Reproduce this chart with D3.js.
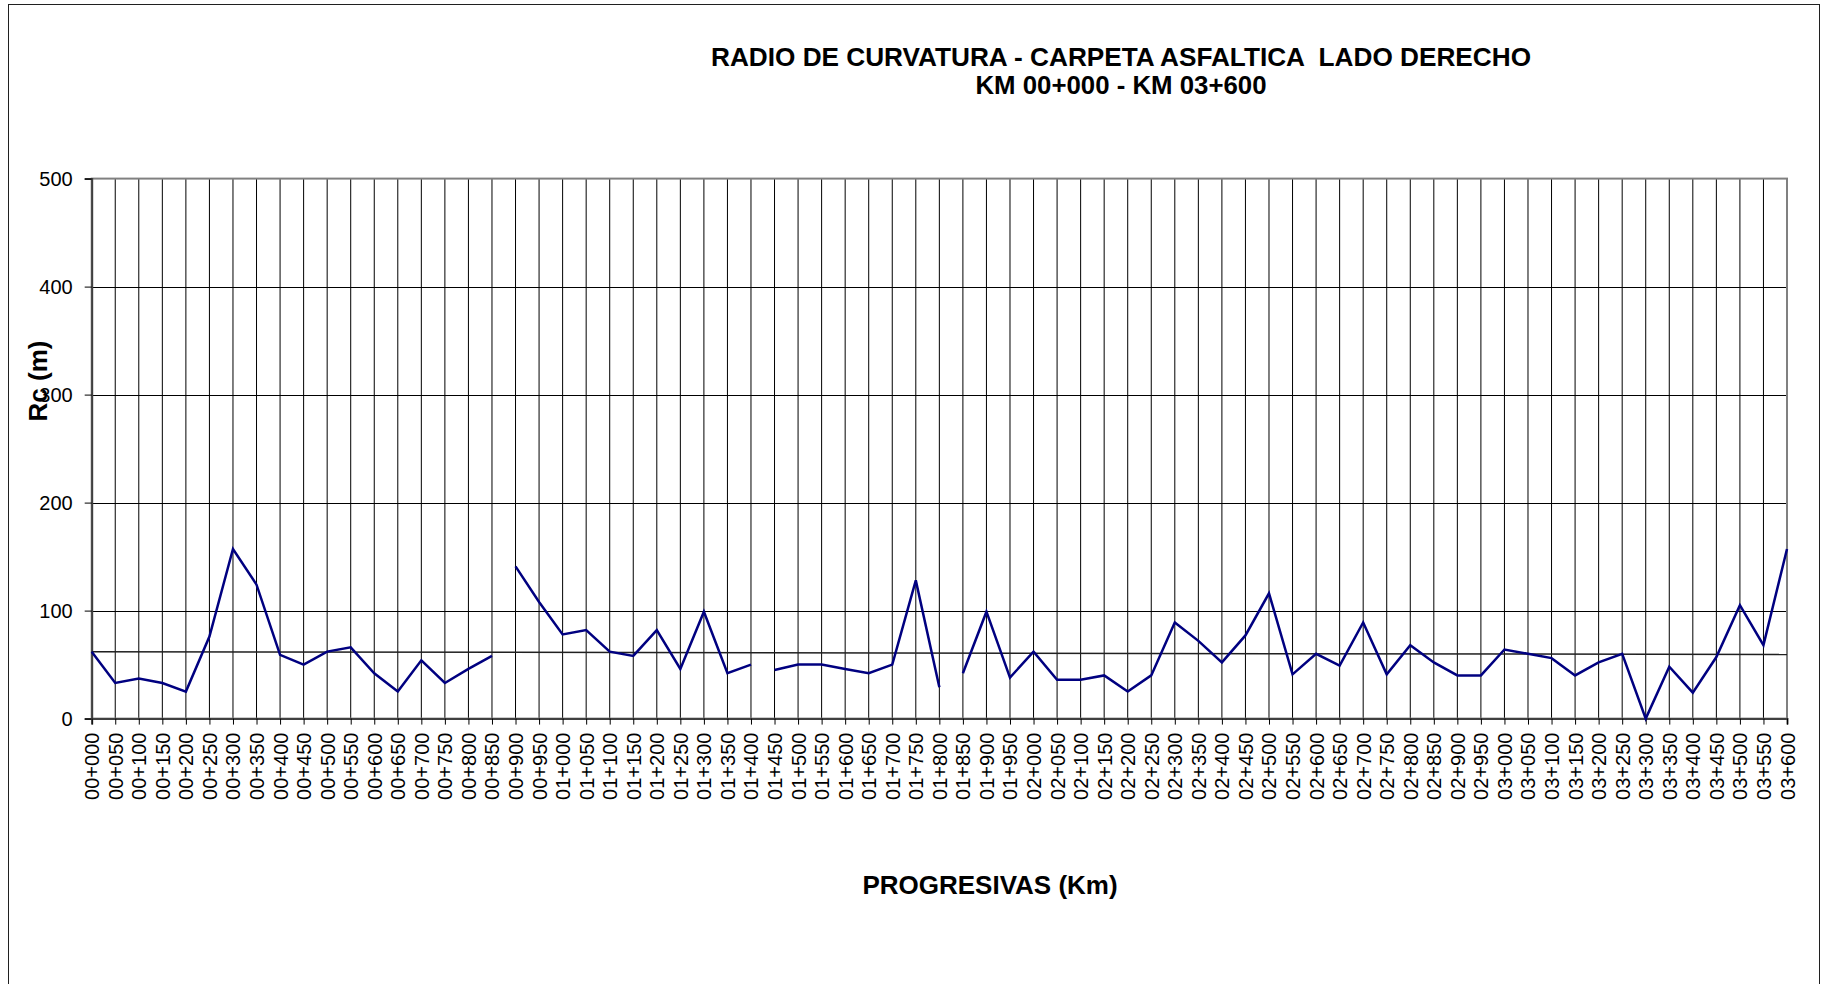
<!DOCTYPE html>
<html>
<head>
<meta charset="utf-8">
<script src="https://cdn.jsdelivr.net/npm/d3@7"></script>
<style>
  html, body { margin: 0; padding: 0; background: #fff; }
  svg { display: block; font-family: "Liberation Sans", Arial, sans-serif; }
</style>
</head>
<body>
<svg id="chart" width="1832" height="984"></svg>
<script>
const categories = [
  "00+000","00+050","00+100","00+150","00+200","00+250","00+300","00+350","00+400","00+450",
  "00+500","00+550","00+600","00+650","00+700","00+750","00+800","00+850","00+900","00+950",
  "01+000","01+050","01+100","01+150","01+200","01+250","01+300","01+350","01+400","01+450",
  "01+500","01+550","01+600","01+650","01+700","01+750","01+800","01+850","01+900","01+950",
  "02+000","02+050","02+100","02+150","02+200","02+250","02+300","02+350","02+400","02+450",
  "02+500","02+550","02+600","02+650","02+700","02+750","02+800","02+850","02+900","02+950",
  "03+000","03+050","03+100","03+150","03+200","03+250","03+300","03+350","03+400","03+450",
  "03+500","03+550","03+600"
];
const rcValues = [
  62, 33, 37, 33, 25, 76, 157, 124, 59, 50,
  62, 66, 42, 25, 54, 33, 46, 58, 141, 108,
  78, 82, 62, 58, 82, 46, 99, 42, 50, 45,
  50, 50, 46, 42, 50, 128, 29, 42, 99, 38,
  62, 36, 36, 40, 25, 40, 89, 72, 52, 77,
  116, 41, 60, 49, 89, 41, 68, 52, 40, 40,
  64, 60, 56, 40, 52, 60, 0, 48, 24, 57,
  105, 68, 157
];
// indices where the plotted line starts a new (unconnected) segment
const segmentStarts = [0, 18, 29, 37];
// linear trendline values at first and last progresiva
const trendValues = [62.0, 59.3];
const yTicks = [0, 100, 200, 300, 400, 500];
const titleLines = ["RADIO DE CURVATURA - CARPETA ASFALTICA  LADO DERECHO", "KM 00+000 - KM 03+600"];
const xTitle = "PROGRESIVAS (Km)";
const yTitle = "Rc (m)";

const svg = d3.select("#chart");
const pLeft = 91.7, pRight = 1787, pTop = 178.6, pBottom = 718.6;

const x = d3.scalePoint().domain(categories).range([pLeft, pRight]);
const y = d3.scaleLinear().domain([0, 500]).range([pBottom, pTop]);

// outer chart border
svg.append("rect").attr("x", 8.5).attr("y", 4.5).attr("width", 1811).attr("height", 1000)
  .attr("fill", "none").attr("stroke", "#202020").attr("stroke-width", 1);

// vertical gridlines
svg.append("g").selectAll("line").data(categories.slice(1, -1)).join("line")
  .attr("x1", d => x(d)).attr("x2", d => x(d))
  .attr("y1", pTop).attr("y2", pBottom)
  .attr("stroke", "#000").attr("stroke-width", 1);

// horizontal gridlines
svg.append("g").selectAll("line").data(yTicks.slice(1, -1)).join("line")
  .attr("x1", pLeft).attr("x2", pRight)
  .attr("y1", d => Math.round(y(d)) + 0.5).attr("y2", d => Math.round(y(d)) + 0.5)
  .attr("stroke", "#000").attr("stroke-width", 1);

// plot border
svg.append("rect").attr("x", pLeft).attr("y", pTop).attr("width", pRight - pLeft).attr("height", pBottom - pTop)
  .attr("fill", "none").attr("stroke", "#808080").attr("stroke-width", 2);

// y axis
const yAxis = d3.axisLeft(y).tickValues(yTicks).tickSize(7).tickPadding(12).tickFormat(d3.format("d"));
const gy = svg.append("g").attr("transform", `translate(${pLeft},0)`).call(yAxis);
gy.select(".domain").attr("stroke", "#404040").attr("stroke-width", 2);
gy.selectAll(".tick line").attr("stroke", "#000");
gy.selectAll(".tick text").attr("font-size", 20).attr("fill", "#000")
  .attr("font-family", "Liberation Sans, Arial, sans-serif");

// x axis
const xAxis = d3.axisBottom(x).tickSize(6).tickPadding(0);
const gx = svg.append("g").attr("transform", `translate(0,${pBottom})`).call(xAxis);
gx.select(".domain").attr("stroke", "#404040").attr("stroke-width", 2);
gx.selectAll(".tick line").attr("stroke", "#000");
gx.selectAll(".tick text")
  .attr("font-size", 20).attr("fill", "#000")
  .attr("font-family", "Liberation Sans, Arial, sans-serif")
  .attr("text-anchor", "end")
  .attr("transform", "translate(0,14) rotate(-90)")
  .attr("x", 0).attr("y", 0).attr("dy", "0.35em");

// trendline
svg.append("line")
  .attr("x1", x(categories[0])).attr("y1", y(trendValues[0]))
  .attr("x2", x(categories[categories.length - 1])).attr("y2", y(trendValues[1]))
  .attr("stroke", "#202020").attr("stroke-width", 1.5);

// data line segments
const bounds = segmentStarts.concat([rcValues.length]);
const line = d3.line().x(d => x(d.c)).y(d => y(d.v));
for (let s = 0; s < segmentStarts.length; s++) {
  const pts = [];
  for (let i = bounds[s]; i < bounds[s + 1]; i++) pts.push({ c: categories[i], v: rcValues[i] });
  svg.append("path").datum(pts).attr("d", line)
    .attr("fill", "none").attr("stroke", "#000080").attr("stroke-width", 2.5)
    .attr("stroke-linejoin", "miter");
}

// titles
svg.append("text").attr("x", 1121).attr("y", 66).attr("text-anchor", "middle")
  .style("white-space", "pre").attr("xml:space", "preserve")
  .attr("font-size", 26.2).attr("font-weight", "bold").text(titleLines[0]);
svg.append("text").attr("x", 1121).attr("y", 94).attr("text-anchor", "middle")
  .attr("font-size", 25.8).attr("font-weight", "bold").text(titleLines[1]);

svg.append("text").attr("x", 990).attr("y", 894).attr("text-anchor", "middle")
  .attr("font-size", 26).attr("font-weight", "bold").text(xTitle);

svg.append("text").attr("transform", "translate(47,381) rotate(-90)").attr("text-anchor", "middle")
  .attr("font-size", 26).attr("font-weight", "bold").text(yTitle);
</script>
</body>
</html>
